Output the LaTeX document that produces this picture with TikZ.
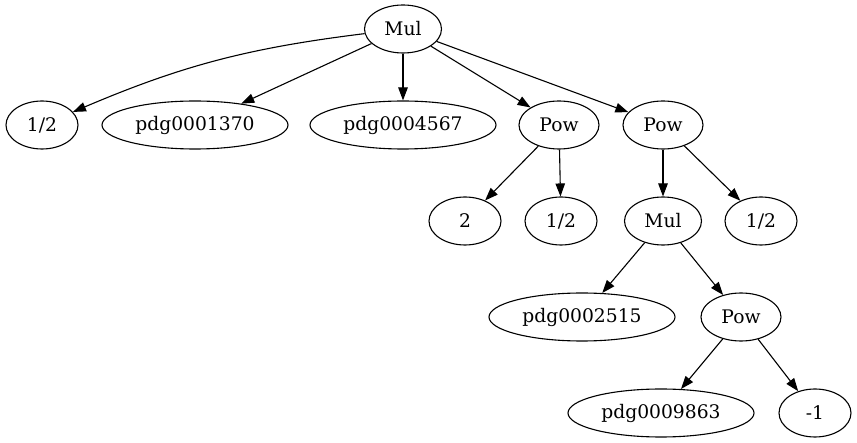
\documentclass[tikz,border=0pt]{standalone}
\usepackage{fontspec}
\setmainfont{DejaVu Serif}
\usetikzlibrary{shapes.geometric,arrows.meta}
\begin{document}
\begin{tikzpicture}[x=1pt,y=-1pt,
  nd/.style={draw,ellipse,line width=1.1pt,inner sep=0pt,minimum height=48pt,font=\fontsize{18.7}{20}\selectfont},
  w72/.style={nd,minimum width=72pt},
  w77/.style={nd,minimum width=77pt},
  w80/.style={nd,minimum width=80pt},
  w186/.style={nd,minimum width=186pt},
  edge/.style={line width=1.1pt,-{Triangle[length=13pt,width=9.5pt]}}]
\useasboundingbox (0,0) rectangle (857,443);
\node[w77]  (mul)   at (403,29)  {Mul};
\node[w72]  (h1)    at (42,125)  {1/2};
\node[w186] (p1370) at (195,125) {pdg0001370};
\node[w186] (p4567) at (403,125) {pdg0004567};
\node[w80]  (pow1)  at (559,125) {Pow};
\node[w80]  (pow2)  at (663,125) {Pow};
\node[w72]  (two)   at (465,221) {2};
\node[w72]  (h2)    at (561,221) {1/2};
\node[w77]  (mul2)  at (663,221) {Mul};
\node[w72]  (h3)    at (761,221) {1/2};
\node[w186] (p2515) at (582,317) {pdg0002515};
\node[w80]  (pow3)  at (741,317) {Pow};
\node[w186] (p9863) at (661,413) {pdg0009863};
\node[w72]  (m1)    at (815,413) {-1};
\draw[edge] (mul) to[bend right=8] (h1);
\draw[edge] (mul) -- (p1370);
\draw[edge] (mul) -- (p4567);
\draw[edge] (mul) -- (pow1);
\draw[edge] (mul) -- (pow2);
\draw[edge] (pow1) -- (two);
\draw[edge] (pow1) -- (h2);
\draw[edge] (pow2) -- (mul2);
\draw[edge] (pow2) -- (h3);
\draw[edge] (mul2) -- (p2515);
\draw[edge] (mul2) -- (pow3);
\draw[edge] (pow3) -- (p9863);
\draw[edge] (pow3) -- (m1);
\end{tikzpicture}
\end{document}
